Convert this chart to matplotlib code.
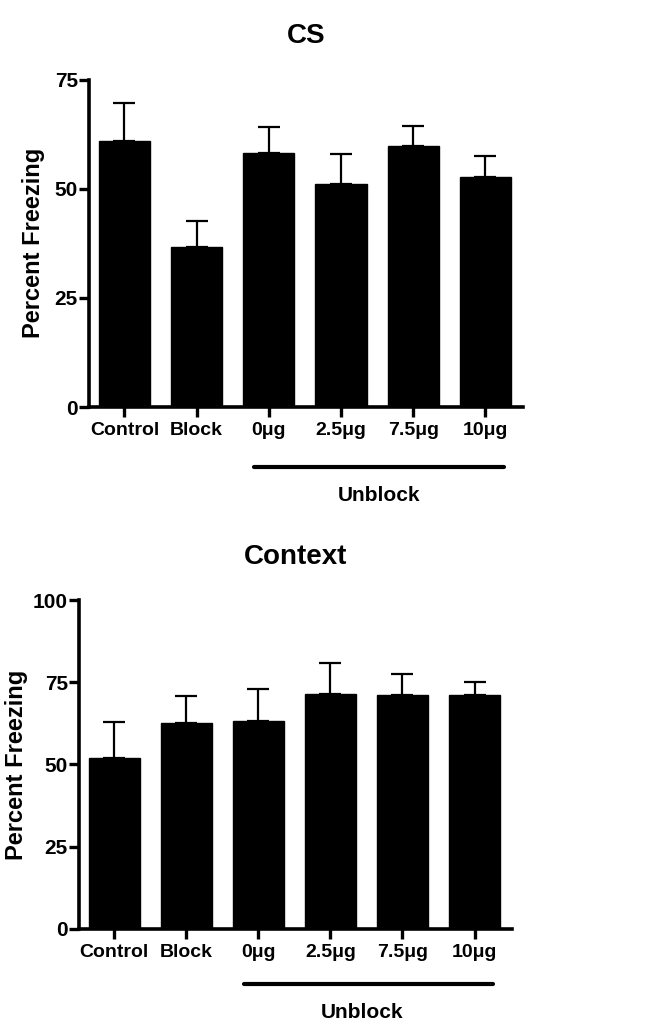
import numpy as np
import matplotlib
matplotlib.use('Agg')
import matplotlib.pyplot as plt
import matplotlib.transforms as mtransforms

plt.rcParams['font.family'] = ['Liberation Sans', 'DejaVu Sans']
plt.rcParams['font.weight'] = 'bold'

groups = ['Control', 'Block', '0μg', '2.5μg', '7.5μg', '10μg']

# CS
cs_mean = [60.9, 36.7, 58.2, 51.1, 59.8, 52.7]
cs_sem = [8.8, 5.9, 6.0, 6.8, 4.5, 4.8]
cs_ticks = [0, 25, 50, 75]

# Context
ctx_mean = [52.0, 62.5, 63.2, 71.4, 71.1, 71.1]
ctx_sem = [10.9, 8.4, 9.9, 9.6, 6.5, 4.0]
ctx_ticks = [0, 25, 50, 75, 100]


def draw_panel(ax, title, means, sems, ticks, line_y, text_y, text_x):
    x = np.arange(len(groups))
    ax.bar(x, means, width=0.71, color='black', edgecolor='black', zorder=2)
    ax.errorbar(x, means, yerr=[np.zeros(len(sems)), sems], fmt='none',
                ecolor='black', elinewidth=1.6, capsize=8, capthick=1.6, zorder=1)
    ax.set_xlim(-0.49, len(groups) - 0.48)
    ax.set_ylim(0, ticks[-1])
    ax.set_yticks(ticks)
    ax.set_xticks(x)
    ax.set_xticklabels(groups)
    for s in ['top', 'right']:
        ax.spines[s].set_visible(False)
    for s in ['left', 'bottom']:
        ax.spines[s].set_linewidth(2.6)
    ax.tick_params(axis='both', width=2.4, length=7, labelsize=14)
    ax.tick_params(axis='y', pad=1, labelsize=15)
    ax.tick_params(axis='x', pad=4)
    ax.set_title(title, fontsize=20, fontweight='bold', pad=26)
    ax.set_ylabel('Percent Freezing', fontsize=17, fontweight='bold')

    # Unblock bracket
    trans = mtransforms.blended_transform_factory(ax.transData, ax.transAxes)
    ax.plot([1.8, 5.25], [line_y, line_y], color='black', lw=3,
            transform=trans, clip_on=False, solid_capstyle='round')
    ax.text(text_x, text_y, 'Unblock', transform=trans, ha='center', va='center',
            fontsize=15, fontweight='bold')


fig = plt.figure(figsize=(6.55, 10.24), dpi=100)

ax1 = fig.add_axes([0.1359, 0.6025, 0.6626, 0.3198])
draw_panel(ax1, 'CS', cs_mean, cs_sem, cs_ticks, -0.183, -0.269, 3.53)
ax1.yaxis.set_label_coords(-0.101, 0.5)

ax2 = fig.add_axes([0.1206, 0.0931, 0.6611, 0.3207])
draw_panel(ax2, 'Context', ctx_mean, ctx_sem, ctx_ticks, -0.167, -0.254, 3.44)
ax2.yaxis.set_label_coords(-0.118, 0.5)

fig.savefig('out.png', dpi=100)
